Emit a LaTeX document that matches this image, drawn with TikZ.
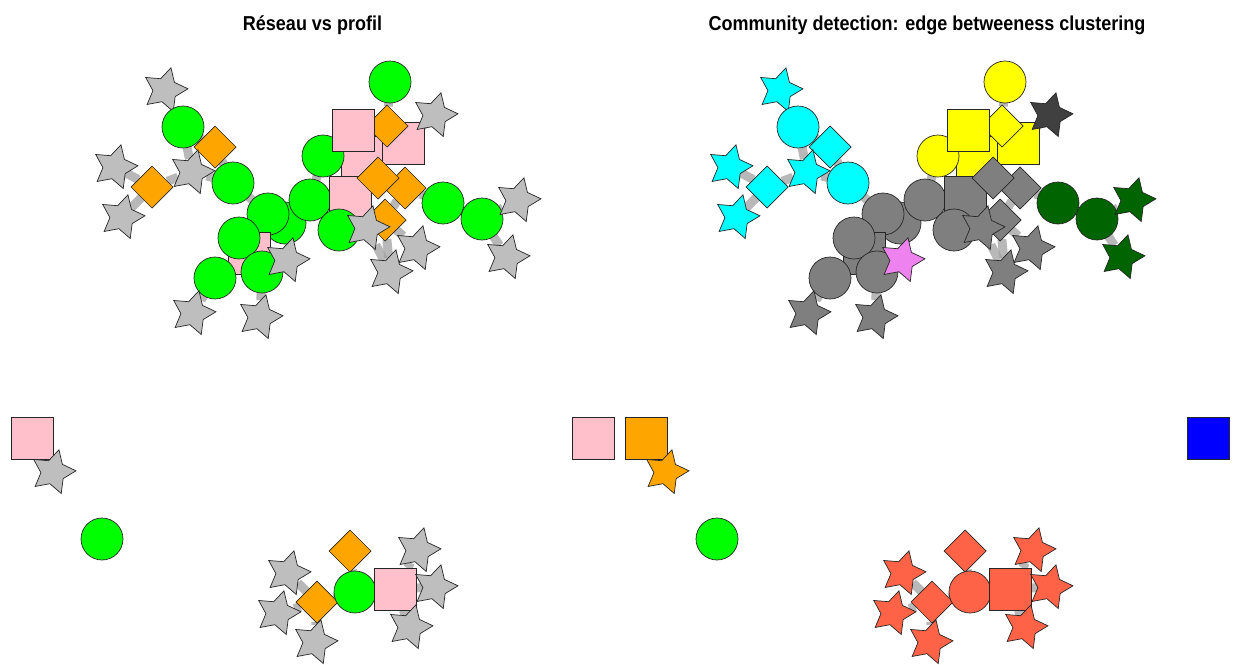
\documentclass[tikz,border=0pt]{standalone}
\usepackage{fontspec}
\setmainfont{Liberation Sans}
\usetikzlibrary{shapes.geometric}
\pgfdeclarelayer{bg}
\pgfsetlayers{bg,main}
\definecolor{sg}{HTML}{BEBEBE}
\definecolor{gr}{HTML}{00FF00}
\definecolor{orn}{HTML}{FFA500}
\definecolor{pk}{HTML}{FFC0CB}
\definecolor{cy}{HTML}{00FFFF}
\definecolor{gf}{HTML}{7F7F7F}
\definecolor{gq}{HTML}{404040}
\definecolor{vio}{HTML}{EE82EE}
\definecolor{yel}{HTML}{FFFF00}
\definecolor{dg}{HTML}{006400}
\definecolor{tom}{HTML}{FF6347}
\definecolor{bl}{HTML}{0000FF}
\definecolor{edgecol}{HTML}{A0A0A0}
\tikzset{
  base/.style={draw=black!85, line width=0.7pt, inner sep=0pt, outer sep=0pt},
  ci/.style={base, circle, minimum size=42pt},
  sq/.style={base, rectangle, minimum size=42pt},
  di/.style={base, diamond, aspect=1, minimum size=42pt},
  st/.style={base, star, star points=5, star point ratio=1.9, minimum size=46pt, rotate=-15},
  shp/.style={#1},
  edge/.style={draw=edgecol, line width=9pt, opacity=0.75},
  ttl/.style={font=\bfseries\fontsize{18}{20}\selectfont, anchor=base}
}
\begin{document}
\begin{tikzpicture}[x=1pt,y=-1pt]
\useasboundingbox (0,0) rectangle (1233,664);
\node[ttl] (t1) at (312.5,30) {\scalebox{1}[1.12]{Réseau vs profil}};
\node[ttl] (t2) at (927,30) {\scalebox{1}[1.12]{Community detection: edge betweeness clustering}};
\foreach \sh/\n/\x/\y/\cl/\cr in {
 st/s1/165/90/sg/cy, ci/c1/183/127/gr/cy, di/d1/215/147/orn/cy,
 st/s2/115/167/sg/cy, st/s3/192/172/sg/cy, st/s4/122/217/sg/cy,
 di/d2/152/187/orn/cy, ci/c2/233/183/gr/cy,
 ci/c4/285/223/gr/gf, ci/c3/268/214/gr/gf, sq/q1/249/253/pk/gf,
 ci/c5/239/238/gr/gf, ci/c6/215/278/gr/gf, ci/c7/262/272/gr/gf,
 st/s7/287/260/sg/vio, st/s5/193/313/sg/gf, st/s6/260/317/sg/gf,
 ci/c8/310/200/gr/gf, sq/S3/362/157/pk/yel, sq/S2/403/143/pk/yel,
 di/D1/387/126/orn/yel, ci/c9/323/156/gr/yel, sq/S1/353/130/pk/yel,
 ci/c10/390/82/gr/yel, st/s8/435/115/sg/gq, sq/S4/350/197/pk/gf,
 di/D3/405/188/orn/gf, di/D2/378/178/orn/gf, ci/c11/339/230/gr/gf,
 di/D4/385/220/orn/gf, st/s9/367/228/sg/gf, st/s10/417/248/sg/gf,
 st/s11/390/272/sg/gf, ci/c12/443/203/gr/dg, ci/c13/482/219/gr/dg,
 st/s12/518/200/sg/dg, st/s13/507/257/sg/dg,
 di/e1/350/551/orn/tom, di/e2/317/602/orn/tom, ci/e3/355/592/gr/tom,
 sq/e4/395/589/pk/tom, st/b1/288/573/sg/tom, st/b2/278/613/sg/tom,
 st/b3/315/642/sg/tom, st/b4/418/550/sg/tom, st/b5/435/587/sg/tom,
 st/b6/410/627/sg/tom}{
  \node[shp/.expanded=\sh, fill=\cl] (L\n) at (\x,\y) {};
  \node[shp/.expanded=\sh, fill=\cr] (R\n) at (\x+615,\y) {};
}
% isolated nodes, left panel
\node[sq, fill=pk] (Lx1) at (32,438) {};
\node[st, fill=sg] (Lx2) at (53,472) {};
\node[ci, fill=gr] (Lx3) at (102,539) {};
% isolated nodes, right panel
\node[sq, fill=pk] (Rx0) at (593,438) {};
\node[sq, fill=orn] (Rx1) at (646,438) {};
\node[st, fill=orn] (Rx2) at (666,472) {};
\node[ci, fill=gr] (Rx3) at (717,539) {};
\node[sq, fill=bl] (Rx4) at (1208,438) {};
\begin{pgfonlayer}{bg}
\foreach \p in {L,R}{
  \foreach \a/\b in {s1/c1, c1/d1, c1/s3, d2/s2, d2/s4, d2/s3, s3/c2, d1/c2,
    c2/c3, c3/c4, c3/c5, c5/q1, q1/c6, q1/c7, c6/s5, c7/s6, c7/s7, c4/c8,
    c8/c9, c9/S1, S1/D1, D1/c10, D1/S2, S2/s8, S1/S3, S3/D2, D2/D3, D2/S4,
    S4/c8, S4/c11, D3/D4, D4/s9, D4/s10, D4/s11, s9/s11, D3/c12, c12/c13,
    c13/s12, c13/s13, e1/e3, e2/e3, e3/e4, e2/b1, e2/b2, e2/b3, e4/b4,
    e4/b5, e4/b6}{
    \draw[edge] (\p\a) -- (\p\b);
  }
}
\draw[edge] (Lx1) -- (Lx2);
\draw[edge] (Rx1) -- (Rx2);
\end{pgfonlayer}
\end{tikzpicture}
\end{document}
